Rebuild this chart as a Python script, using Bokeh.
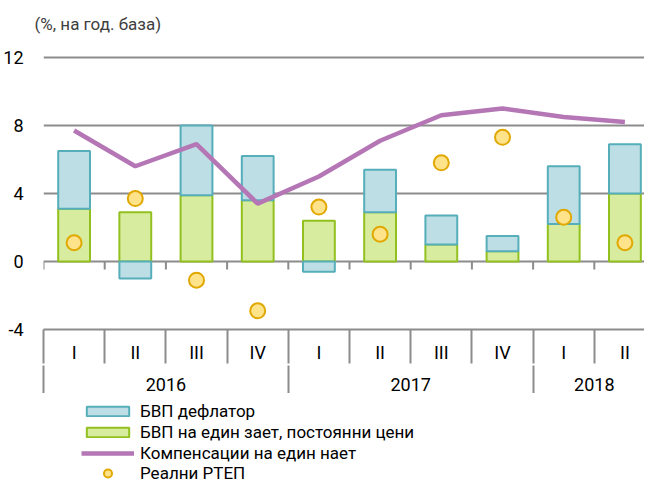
from bokeh.plotting import figure
from bokeh.layouts import column
from bokeh.models import (Range1d, LinearAxis, FixedTicker, Legend, LegendItem,
                          ColumnDataSource)
from bokeh.embed import file_html
from bokeh.resources import INLINE

# ---- data ----
quarters = ["I", "II", "III", "IV", "I", "II", "III", "IV", "I", "II"]
years = ["2016", "2017", "2018"]
year_counts = [4, 4, 2]
deflator = [3.4, -1.0, 4.1, 2.6, -0.6, 2.5, 1.7, 0.9, 3.4, 2.9]
productivity = [3.1, 2.9, 3.9, 3.6, 2.4, 2.9, 1.0, 0.6, 2.2, 4.0]
compensation = [7.7, 5.6, 6.9, 3.4, 5.0, 7.1, 8.6, 9.0, 8.5, 8.2]
real_ulc = [1.1, 3.7, -1.1, -2.9, 3.2, 1.6, 5.8, 7.3, 2.6, 1.1]
y_ticks = [-4, 0, 4, 8, 12]
y_tick_labels = ["-4", "0", "4", "8", "12"]
grid_ticks = [0, 4, 8, 12]
title_text = "(%, на год. база)"
legend_labels = ["БВП дефлатор", "БВП на един зает, постоянни цени",
                 "Компенсации на един нает", "Реални РТЕП"]

FONT = "Roboto"
GRAY = "#8C8C8C"
BLUE_FILL, BLUE_LINE = "#BCDEE4", "#55AEBA"
GREEN_FILL, GREEN_LINE = "#D8ECA0", "#92C01F"
PURPLE = "#B576B5"
DOT_FILL, DOT_LINE = "#FFE38B", "#E0A800"

n = len(quarters)
xs = list(range(n))
bounds = [i - 0.5 for i in range(n + 1)]

defl_bottom = [pr if d >= 0 else 0 for pr, d in zip(productivity, deflator)]
defl_top = [pr + d if d >= 0 else d for pr, d in zip(productivity, deflator)]

src = ColumnDataSource(dict(x=xs, prod=productivity, db=defl_bottom, dt=defl_top,
                            comp=compensation, rulc=real_ulc))

p = figure(frame_width=601, frame_height=285,
           x_range=Range1d(-0.5, 9.32), y_range=Range1d(-4, 12.76),
           output_backend="svg", toolbar_location=None,
           x_axis_location=None, y_axis_location=None,
           min_border_left=42, min_border_right=0, min_border_top=0, min_border_bottom=0,
           outline_line_color=None)

p.title.text = title_text
p.title.align = "left"
p.title.offset = -9
p.title.standoff = 22
p.title.text_font = FONT
p.title.text_font_size = "17px"
p.title.text_font_style = "normal"
p.title.text_color = "#404040"

# y axis
yax = LinearAxis(ticker=FixedTicker(ticks=y_ticks),
                 major_label_overrides={t: s for t, s in zip(y_ticks, y_tick_labels)},
                 axis_line_color=None,
                 major_tick_line_color=None, minor_tick_line_color=None,
                 major_tick_out=0, major_tick_in=0, minor_tick_out=0, minor_tick_in=0,
                 major_label_standoff=20, major_label_text_font=FONT,
                 major_label_text_font_size="18px", major_label_text_color="#000000")
p.add_layout(yax, "left")

# grid
p.xgrid.visible = False
p.ygrid.ticker = FixedTicker(ticks=grid_ticks)
p.ygrid.grid_line_color = GRAY
p.ygrid.grid_line_width = 2

# small ticks on the zero line
p.segment(x0=bounds, y0=[0] * len(bounds), x1=bounds, y1=[-0.47] * len(bounds),
          line_color=GRAY, line_width=2)

# bars, line, dots
bar_style_green = dict(fill_color=GREEN_FILL, line_color=GREEN_LINE, line_width=2)
bar_style_blue = dict(fill_color=BLUE_FILL, line_color=BLUE_LINE, line_width=2)
line_style = dict(line_color=PURPLE, line_width=4.5)
dot_style = dict(size=15, fill_color=DOT_FILL, line_color=DOT_LINE, line_width=2)

p.vbar(x="x", bottom=0, top="prod", width=0.52, source=src, **bar_style_green)
p.vbar(x="x", bottom="db", top="dt", width=0.52, source=src, **bar_style_blue)
p.line(x="x", y="comp", source=src, **line_style)
p.scatter(x="x", y="rulc", source=src, **dot_style)

# quarter axis
axA = LinearAxis(ticker=FixedTicker(ticks=xs, minor_ticks=bounds),
                 major_label_overrides={i: q for i, q in enumerate(quarters)},
                 axis_line_color=GRAY, axis_line_width=2,
                 major_tick_line_color=None, major_tick_out=0, major_tick_in=0,
                 minor_tick_line_color=GRAY, minor_tick_line_width=2,
                 minor_tick_out=34, minor_tick_in=0,
                 major_label_standoff=-22, major_label_text_font=FONT,
                 major_label_text_font_size="18px", major_label_text_color="#000000")
p.add_layout(axA, "below")

# year axis
y_centers, y_bounds = [], [-0.5]
start = 0
for c in year_counts:
    y_centers.append(start + c / 2 - 0.5)
    start += c
    y_bounds.append(start - 0.5)
axB = LinearAxis(ticker=FixedTicker(ticks=y_centers, minor_ticks=y_bounds),
                 major_label_overrides={c: yv for c, yv in zip(y_centers, years)},
                 axis_line_color=None,
                 major_tick_line_color=None, major_tick_out=0, major_tick_in=0,
                 minor_tick_line_color=GRAY, minor_tick_line_width=2,
                 minor_tick_out=34, minor_tick_in=0,
                 major_label_standoff=-22, major_label_text_font=FONT,
                 major_label_text_font_size="18px", major_label_text_color="#000000")
p.add_layout(axB, "below")

# ---- legend strip (same series as hidden renderers; only the legend shows) ----
LEG_H = 90
p2 = figure(width=643, height=LEG_H, x_range=Range1d(0, 1), y_range=Range1d(0, 1),
            output_backend="svg", toolbar_location=None,
            x_axis_location=None, y_axis_location=None,
            min_border_left=0, min_border_right=0, min_border_top=0, min_border_bottom=0,
            outline_line_color=None)
p2.title.visible = False
p2.xgrid.visible = False
p2.ygrid.visible = False
d_blue = p2.vbar(x="x", bottom="db", top="dt", width=0.52, source=src, visible=False,
                 **bar_style_blue)
d_green = p2.vbar(x="x", bottom=0, top="prod", width=0.52, source=src, visible=False,
                  **bar_style_green)
d_line = p2.line(x="x", y="comp", source=src, visible=False, **line_style)
d_dot = p2.scatter(x="x", y="rulc", source=src, visible=False, **dot_style)

common = dict(orientation="vertical", glyph_width=53, label_standoff=6, margin=0,
              padding=0, border_line_color=None, background_fill_alpha=0,
              inactive_fill_alpha=0,
              label_text_font=FONT, label_text_font_size="17px",
              label_text_color="#000000", label_height=20)
leg1 = Legend(items=[LegendItem(label=legend_labels[0], renderers=[d_blue]),
                     LegendItem(label=legend_labels[1], renderers=[d_green]),
                     LegendItem(label=legend_labels[2], renderers=[d_line])],
              location=(38, 20), glyph_height=12, spacing=1, **common)
leg2 = Legend(items=[LegendItem(label=legend_labels[3], renderers=[d_dot])],
              location=(38, 0), glyph_height=20, spacing=0, **common)
p2.add_layout(leg1, "center")
p2.add_layout(leg2, "center")

open("out.html", "w").write(file_html(column(p, p2, spacing=0), INLINE))
